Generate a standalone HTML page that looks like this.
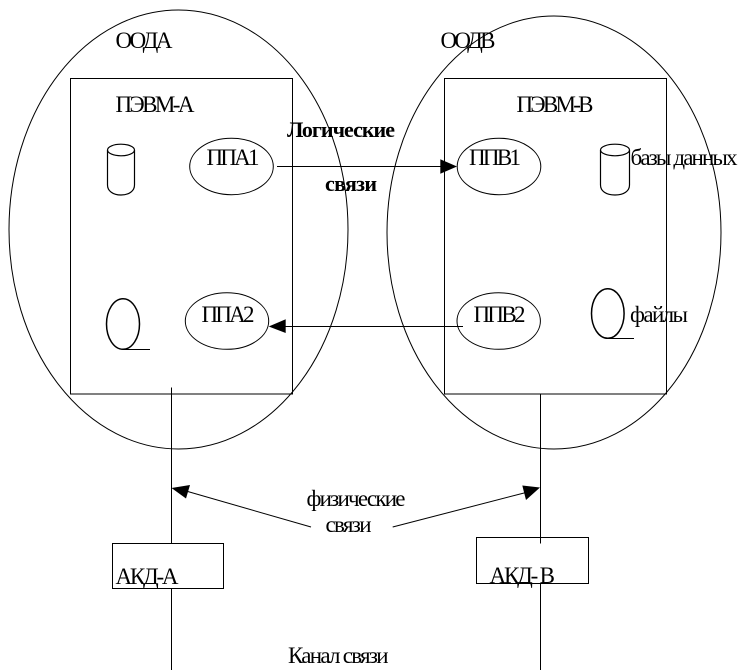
<!DOCTYPE html>
<html>
<head>
<meta charset="utf-8">
<style>
html,body{margin:0;padding:0;background:#fff;}
svg{display:block;}
text{font-family:"Liberation Serif","DejaVu Serif",serif;font-size:23px;fill:#000;}
.b{font-weight:bold;font-size:22px;}
</style>
</head>
<body>
<svg width="746" height="670" viewBox="0 0 746 670" xmlns="http://www.w3.org/2000/svg">
<g fill="none" stroke="#000" stroke-width="1">
  <ellipse cx="178.5" cy="229.5" rx="169.5" ry="219.5"/>
  <ellipse cx="554" cy="232.5" rx="167" ry="216.5"/>
  <rect x="70.5" y="78.5" width="222" height="315.5"/>
  <rect x="444.5" y="78.5" width="222" height="315.5"/>

  <!-- cylinders -->
  <path stroke-width="1.2" d="M107.5 150 V185 C107.5 191 113 195 121 195 C129 195 134.5 191 134.5 185 V150"/>
  <ellipse stroke-width="1.2" cx="121" cy="150" rx="13.5" ry="5.8"/>
  <path stroke-width="1.2" d="M600.5 150 V185 C600.5 191 606 195 615 195 C624 195 629.5 191 629.5 185 V150"/>
  <ellipse stroke-width="1.2" cx="615" cy="150" rx="14.5" ry="5.8"/>

  <!-- process ellipses -->
  <ellipse cx="231.5" cy="166.5" rx="41.8" ry="28.2"/>
  <ellipse cx="499" cy="166.5" rx="41.8" ry="28.2"/>
  <ellipse cx="227" cy="321" rx="41.7" ry="28.3"/>
  <ellipse cx="498.7" cy="321" rx="41.7" ry="28.3"/>

  <!-- tape ovals -->
  <ellipse stroke-width="1.5" cx="123" cy="324" rx="16.5" ry="25.3"/>
  <path d="M123 349.5 H150"/>
  <ellipse stroke-width="1.5" cx="607.8" cy="313.5" rx="16.3" ry="24.8"/>
  <path d="M608 338.5 H634"/>

  <!-- horizontal arrows -->
  <path d="M277 166.5 H442"/>
  <path d="M284 326.5 H463"/>

  <!-- vertical lines -->
  <path d="M171.5 387.5 V543.5 M171.5 588.5 V670"/>
  <path d="M540.5 394 V543.5 M540.5 583.5 V670"/>

  <!-- boxes -->
  <rect x="112.5" y="543.5" width="111" height="45"/>
  <rect x="476.5" y="537.5" width="112" height="46"/>

  <!-- diagonal arrows -->
  <path d="M311 527 L186 491"/>
  <path d="M392.7 527 L526 492.5"/>
</g>

<g fill="#000" stroke="none">
  <polygon points="457,166.5 440.3,159.3 440.3,173.7"/>
  <polygon points="268.7,326.5 285.7,319.3 285.7,333"/>
  <polygon points="171.5,488 190,485 186,498.5"/>
  <polygon points="540,487.5 522.3,485.5 526,500"/>
</g>

<text x="115.5" y="48" textLength="57" lengthAdjust="spacing">ООДА</text>
<text x="440.5" y="48" textLength="55" lengthAdjust="spacing">ООДВ</text>
<text x="115.5" y="112" textLength="79" lengthAdjust="spacing">ПЭВМ-А</text>
<text x="516.5" y="112" textLength="77" lengthAdjust="spacing">ПЭВМ-В</text>
<text class="b" x="287" y="137" textLength="108" lengthAdjust="spacing">Логические</text>
<text class="b" x="325" y="191" textLength="52" lengthAdjust="spacing">связи</text>
<text x="206.5" y="165" textLength="53" lengthAdjust="spacing">ППА1</text>
<text x="469" y="165" textLength="52" lengthAdjust="spacing">ППВ1</text>
<text x="630.5" y="165" textLength="107" lengthAdjust="spacing">базы данных</text>
<text x="201.5" y="322" textLength="53" lengthAdjust="spacing">ППА2</text>
<text x="473.5" y="322" textLength="52" lengthAdjust="spacing">ППВ2</text>
<text x="630" y="322" textLength="58" lengthAdjust="spacing">файлы</text>
<text x="306.5" y="506" textLength="99" lengthAdjust="spacing">физические</text>
<text x="325.5" y="532" textLength="46" lengthAdjust="spacing">связи</text>
<text x="115.5" y="584" textLength="63" lengthAdjust="spacing">АКД-А</text>
<text x="489.5" y="583" textLength="65.5" lengthAdjust="spacing">АКД- В</text>
<text x="288" y="663" textLength="100.5" lengthAdjust="spacing">Канал связи</text>
</svg>
</body>
</html>
